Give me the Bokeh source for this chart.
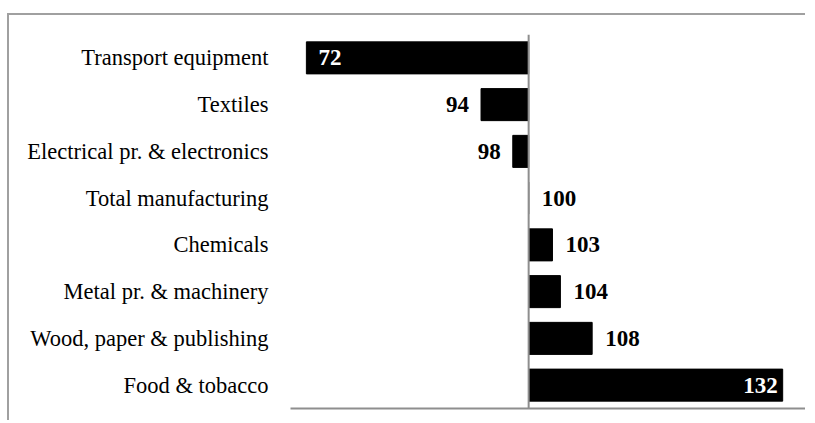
from bokeh.plotting import figure
from bokeh.models import ColumnDataSource, Span, FixedTicker, FactorRange, Range1d
from bokeh.core.properties import value, field
from bokeh.embed import file_html
from bokeh.resources import INLINE

categories = ["Transport equipment", "Textiles", "Electrical pr. & electronics",
              "Total manufacturing", "Chemicals", "Metal pr. & machinery",
              "Wood, paper & publishing", "Food & tobacco"]
values = [72, 94, 98, 100, 103, 104, 108, 132]
baseline = 100

# label placement rules derived from the values
aligns, offs, tcolors = [], [], []
for v in values:
    if v < 80:
        aligns.append("left"); offs.append(12); tcolors.append("white")
    elif v < baseline:
        aligns.append("right"); offs.append(-12); tcolors.append("black")
    elif v > 120:
        aligns.append("right"); offs.append(-5); tcolors.append("white")
    else:
        aligns.append("left"); offs.append(13); tcolors.append("black")

src = ColumnDataSource(dict(cat=categories, val=values, base=[baseline] * len(values),
                            lab=[str(v) for v in values], al=aligns, xo=offs, tc=tcolors))

FONT = "Liberation Serif, Times New Roman, serif"
GRAY = "#8e8e8e"
p = figure(y_range=FactorRange(factors=list(reversed(categories))),
           x_range=Range1d(70, 135),
           width=798, height=407, output_backend="svg", toolbar_location=None,
           min_border_left=281, min_border_right=1, min_border_top=19, min_border_bottom=14,
           styles={"border-top": "2px solid #a0a0a0", "border-left": "2px solid #a0a0a0",
                   "position": "relative", "left": "7px", "top": "13px"})

p.hbar(y="cat", left="base", right="val", height=0.685, color="black", source=src)
p.add_layout(Span(location=baseline, dimension="height", line_color=GRAY, line_width=2))

p.text(x="val", y="cat", text="lab", x_offset=field("xo"), text_align=field("al"),
       text_color=field("tc"), text_baseline="middle", text_font=value(FONT),
       text_font_style="bold", text_font_size="23px", source=src)

p.xgrid.visible = False
p.ygrid.visible = False
p.outline_line_color = None

p.xaxis.ticker = FixedTicker(ticks=[])
p.xaxis.axis_line_color = GRAY
p.xaxis.axis_line_width = 2
p.xaxis.major_tick_line_color = None
p.xaxis.minor_tick_line_color = None
p.xaxis.major_tick_out = 0
p.xaxis.minor_tick_out = 0
p.xaxis.major_label_text_font_size = "0px"
p.xaxis.major_label_standoff = 0

p.yaxis.axis_line_color = None
p.yaxis.major_tick_line_color = None
p.yaxis.minor_tick_line_color = None
p.yaxis.major_tick_out = 0
p.yaxis.major_label_standoff = 22
p.yaxis.major_label_text_font = FONT
p.yaxis.major_label_text_font_size = "22.5px"
p.yaxis.major_label_text_color = "black"

open("out.html", "w").write(file_html(p, INLINE))
